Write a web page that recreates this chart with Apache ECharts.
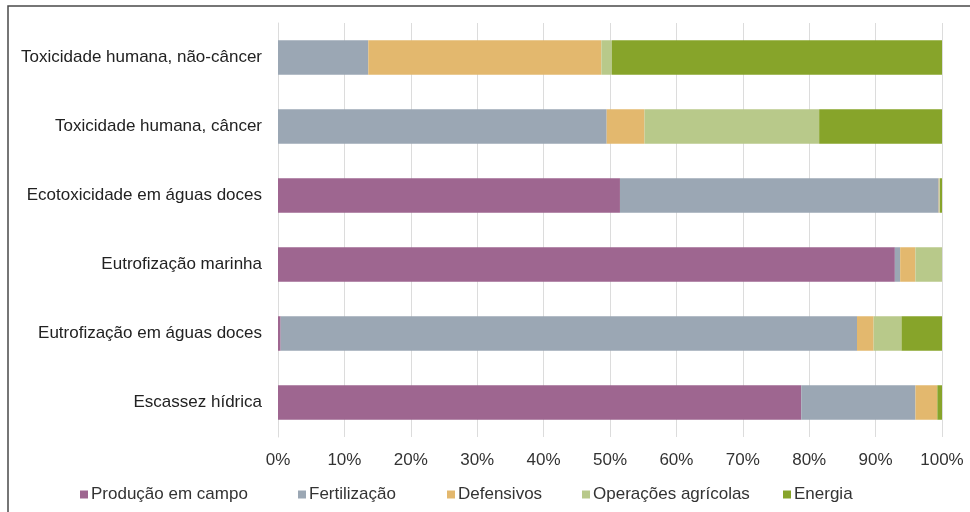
<!DOCTYPE html>
<html>
<head>
<meta charset="utf-8">
<script src="https://cdn.jsdelivr.net/npm/echarts@6/dist/echarts.min.js"></script>
<style>
  html, body { margin: 0; padding: 0; background: #ffffff; }
  #chart { width: 970px; height: 512px; }
</style>
</head>
<body>
<div id="chart"></div>
<script>
// Impact categories, bottom to top as drawn on the category axis
const categories = [
  'Escassez hídrica',
  'Eutrofização em águas doces',
  'Eutrofização marinha',
  'Ecotoxicidade em águas doces',
  'Toxicidade humana, câncer',
  'Toxicidade humana, não-câncer'
];

// Share of each life-cycle stage (%) per category, same order as above
const producaoCampo      = [78.8, 0.4, 92.9, 51.5, 0.0, 0.0];
const fertilizacao       = [17.2, 86.8, 0.8, 48.0, 49.5, 13.6];
const defensivos         = [3.3, 2.5, 2.3, 0.1, 5.7, 35.1];
const operacoesAgricolas = [0.0, 4.2, 4.0, 0.1, 26.3, 1.6];
const energia            = [0.7, 6.1, 0.0, 0.3, 18.5, 49.7];

const xTicks = [0, 10, 20, 30, 40, 50, 60, 70, 80, 90, 100];

const seriesDefs = [
  { name: 'Produção em campo', data: producaoCampo, color: '#9e6690', legendLeft: 75 },
  { name: 'Fertilização', data: fertilizacao, color: '#9ba7b4', legendLeft: 293 },
  { name: 'Defensivos', data: defensivos, color: '#e3b86e', legendLeft: 442 },
  { name: 'Operações agrícolas', data: operacoesAgricolas, color: '#b8c98a', legendLeft: 577 },
  { name: 'Energia', data: energia, color: '#87a42a', legendLeft: 778 }
];

const FONT = 'Liberation Sans, Arial, sans-serif';

const chart = echarts.init(document.getElementById('chart'));

chart.setOption({
  backgroundColor: '#ffffff',
  animation: false,
  textStyle: { fontFamily: FONT },
  graphic: [
    {
      type: 'rect',
      shape: { x: 8, y: 6, width: 980, height: 520 },
      style: { fill: 'none', stroke: '#4a4a4a', lineWidth: 1.5 },
      silent: true
    }
  ],
  grid: { left: 278, right: 28, top: 23, bottom: 75, containLabel: false },
  // one legend block per stage so each entry sits in its own column
  legend: seriesDefs.map(s => ({
    top: 481,
    left: s.legendLeft,
    icon: 'rect',
    itemWidth: 8,
    itemHeight: 8,
    textStyle: { fontSize: 17, color: '#333333', padding: [0, 0, 0, -2], fontFamily: FONT },
    data: [s.name]
  })),
  xAxis: {
    type: 'value',
    min: xTicks[0],
    max: xTicks[xTicks.length - 1],
    interval: 10,
    axisLine: { show: false },
    axisTick: { show: false },
    splitLine: { show: true, lineStyle: { color: '#dcdcdc', width: 1 } },
    axisLabel: {
      formatter: v => v + '%',
      fontSize: 17,
      color: '#333333',
      margin: 15
    }
  },
  yAxis: {
    type: 'category',
    data: categories,
    axisLine: { show: true, lineStyle: { color: '#dcdcdc', width: 1 } },
    axisTick: { show: false },
    axisLabel: { fontSize: 17, color: '#222222', margin: 16 }
  },
  series: seriesDefs.map(s => ({
    name: s.name,
    type: 'bar',
    stack: 'total',
    barWidth: '50%',
    data: s.data,
    itemStyle: { color: s.color },
    emphasis: { disabled: true }
  }))
});
</script>
</body>
</html>
